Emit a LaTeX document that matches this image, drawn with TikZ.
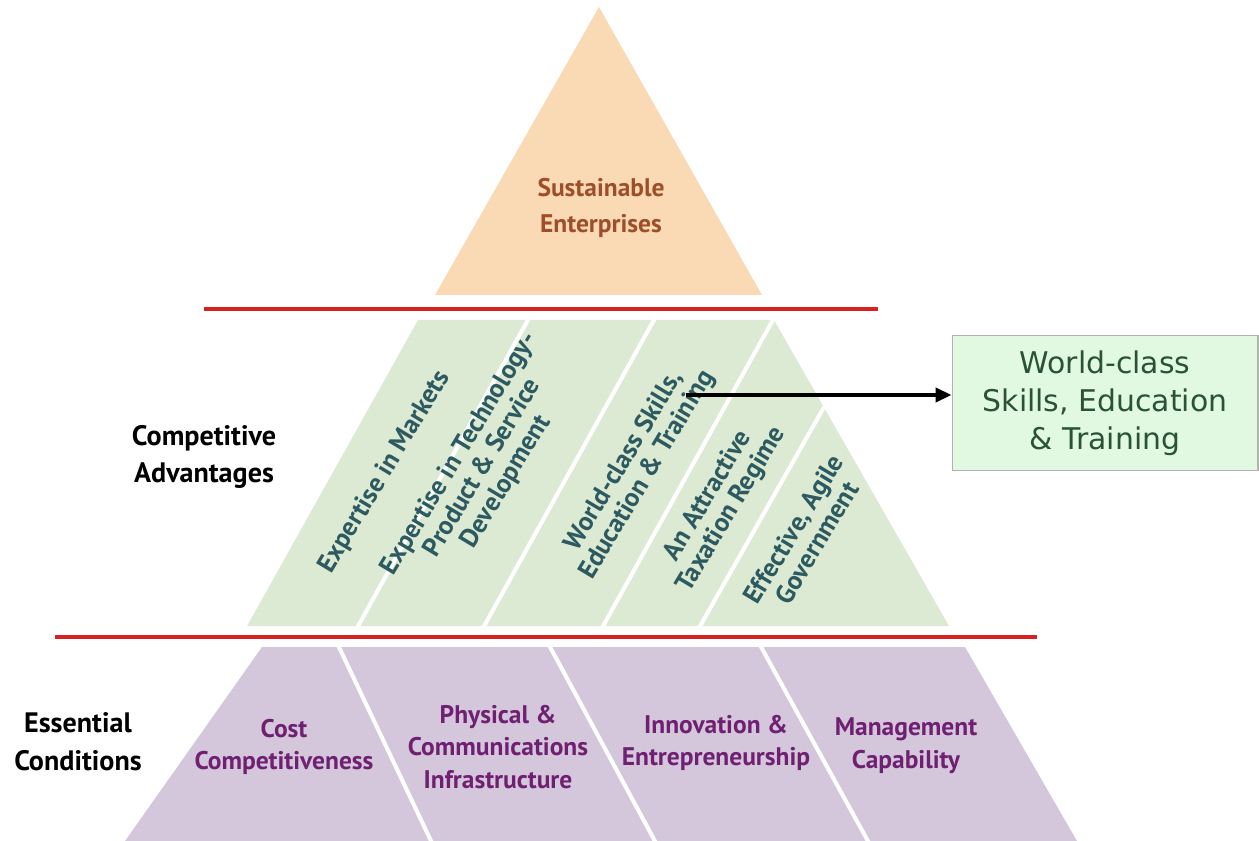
\documentclass[tikz,border=0pt]{standalone}
\usepackage{fontspec}
\setmainfont{PT Sans}
\newfontfamily\boxfont{DejaVu Sans}
\usetikzlibrary{arrows.meta, positioning}

\definecolor{peach}{RGB}{250,218,180}
\definecolor{peachtext}{RGB}{158,78,42}
\definecolor{greenfill}{RGB}{220,234,211}
\definecolor{greentext}{RGB}{44,90,96}
\definecolor{purplefill}{RGB}{212,199,220}
\definecolor{purpletext}{RGB}{112,32,112}
\definecolor{redline}{RGB}{214,34,34}
\definecolor{boxfill}{RGB}{225,249,225}
\definecolor{boxtext}{RGB}{42,82,52}

\tikzset{
	sep/.style={white, line width=2.3pt},
	rule/.style={redline, line width=2pt},
	level/.style={font=\bfseries\fontsize{16}{21.5}\selectfont, align=center},
	slant/.style={text=greentext, font=\bfseries\fontsize{15}{15.5}\selectfont, align=center, rotate=59},
	base/.style={text=purpletext, font=\bfseries\fontsize{14.5}{18.7}\selectfont, align=center}
}

\begin{document}
\begin{tikzpicture}[x=0.02cm, y=-0.02cm]
	\useasboundingbox (0,0) rectangle (1259,841);
	\fill[peach] (435,295) -- (599,7) -- (762,295) -- cycle;
	\fill[greenfill] (418,320) -- (774,320) -- (949,626) -- (247,626) -- cycle;
	\fill[purplefill] (262,647) -- (965,647) -- (1077,841) -- (125,841) -- cycle;
	\draw[sep] (357,628) -- (529,318);
	\draw[sep] (483,628) -- (655,318);
	\draw[sep] (602,628) -- (774,318);
	\draw[sep] (699,628) -- (824,407);
	\draw[sep] (338,645) -- (432,843);
	\draw[sep] (549,645) -- (656,843);
	\draw[sep] (760,645) -- (869,843);
	\draw[rule] (204,309) -- (878,309);
	\draw[rule] (55,637) -- (1037,637);

	\node[text=peachtext, font=\bfseries\fontsize{14.5}{20}\selectfont, align=center] (top) at (601,208) {Sustainable\\Enterprises};

	\node[level] (ca) at (204,457) {Competitive\\Advantages};
	\node[level] (ec) at (78,742) {Essential\\Conditions};

	\node[slant] (g1) at (385,472) {Expertise in Markets};
	\node[slant] (g2) at (483,468) {Expertise in Technology-\\Product \& Service\\Development};
	\node[slant] (g3) at (636,468) {World-class Skills,\\Education \& Training};
	\node[slant] (g4) at (720,503) {An Attractive\\Taxation Regime};
	\node[slant] (g5) at (805,536) {Effective, Agile\\Government};

	\node[base] (p1) at (284,747) {Cost\\Competitiveness};
	\node[base] (p2) at (498,747) {Physical \&\\Communications\\Infrastructure};
	\node[base] (p3) at (716,743) {Innovation \&\\Entrepreneurship};
	\node[base] (p4) at (906,746) {Management\\Capability};

	\node[draw=black!30, fill=boxfill, text=boxtext, line width=0.6pt, minimum width=6.12cm, minimum height=2.7cm, align=center, font=\boxfont\fontsize{17}{21.5}\selectfont] (skills) at (1105,403) {World-class\\Skills, Education\\\& Training};

	\coordinate (src) at (686,395);
	\draw[-{Triangle[length=9pt, width=8pt]}, line width=2pt] (src) -- (src -| skills.west);
\end{tikzpicture}
\end{document}
